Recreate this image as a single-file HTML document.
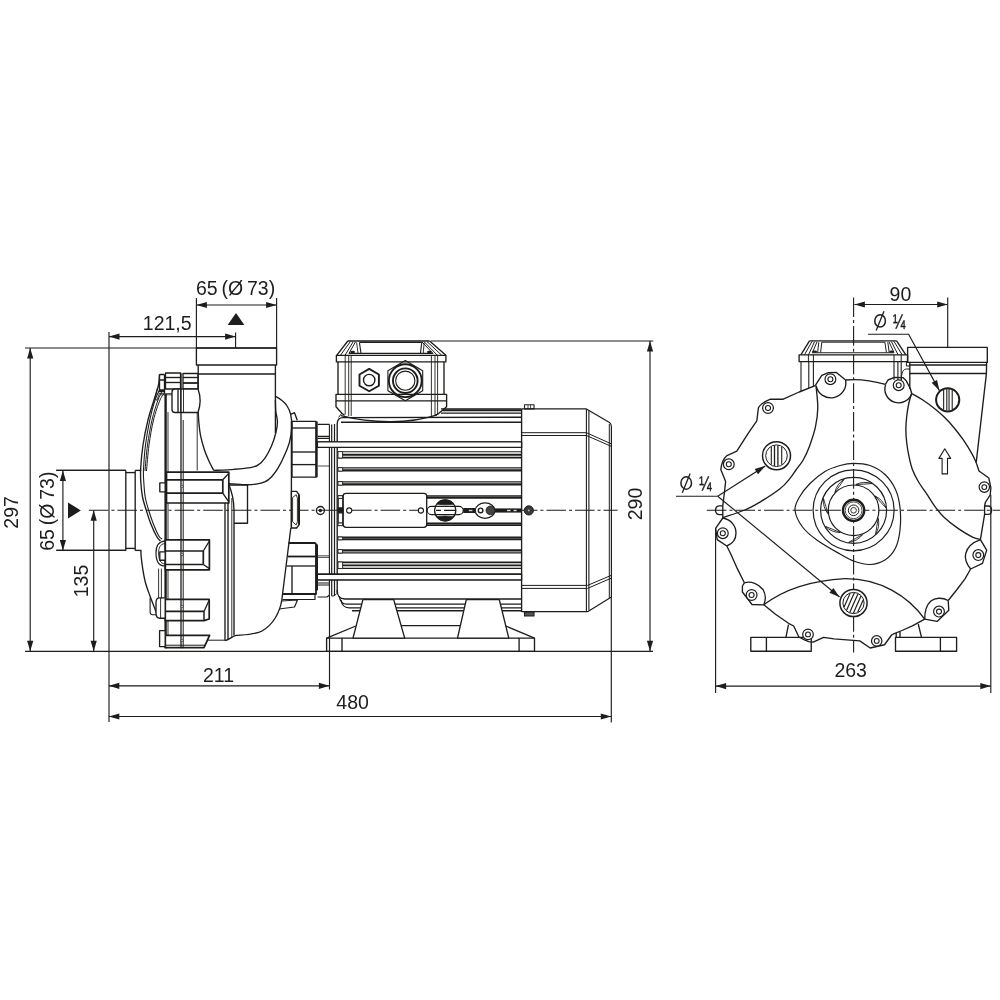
<!DOCTYPE html>
<html><head><meta charset="utf-8"><title>Pump dimension drawing</title>
<style>
html,body{margin:0;padding:0;background:#fff;}
body{width:1000px;height:1000px;overflow:hidden;}
svg{display:block;will-change:transform;font-family:"Liberation Sans",sans-serif;}
svg *{fill:none;stroke:#1d1d1b;stroke-width:1.35;stroke-linecap:butt;stroke-linejoin:round;}
svg text{fill:#1d1d1b;stroke:none;font-size:19.5px;word-spacing:-1.6px;}
svg .ar{fill:#1d1d1b;stroke:none;}
svg .d *{stroke-width:1.15;}
svg .cl{stroke-dasharray:19.6 3 3 3;stroke-width:1.1;}
svg .fk{fill:#1d1d1b;}
svg .wf{fill:#fff;}
</style></head><body>
<svg width="1000" height="1000" viewBox="0 0 1000 1000">
<rect x="0" y="0" width="1000" height="1000" style="fill:#fff;stroke:none"/>
<g class="d" >
<line x1="25" y1="348" x2="276.6" y2="348" />
<line x1="30.2" y1="348" x2="30.2" y2="651.3" />
<polygon class="ar" points="30.2,348 33.3,358.5 27.1,358.5"/>
<polygon class="ar" points="30.2,651.3 27.1,640.8 33.3,640.8"/>
<text x="18.4" y="512.4" text-anchor="middle" transform="rotate(-90 18.4 512.4)">297</text>
<line x1="25" y1="651.3" x2="653" y2="651.3" />
<line x1="109" y1="336.6" x2="235.6" y2="336.6" />
<polygon class="ar" points="109,336.6 119.5,333.5 119.5,339.7"/>
<polygon class="ar" points="235.6,336.6 225.1,339.7 225.1,333.5"/>
<line x1="109" y1="332" x2="109" y2="722" />
<line x1="235.6" y1="332.4" x2="235.6" y2="348" />
<text x="167.2" y="330.2" text-anchor="middle">121,5</text>
<line x1="196.4" y1="305" x2="276.6" y2="305" />
<polygon class="ar" points="196.4,305 206.9,301.9 206.9,308.1"/>
<polygon class="ar" points="276.6,305 266.1,308.1 266.1,301.9"/>
<line x1="196.4" y1="298" x2="196.4" y2="348" />
<line x1="276.6" y1="298" x2="276.6" y2="348" />
<text x="235.6" y="294.6" text-anchor="middle">65 (Ø 73)</text>
<polygon class="ar" points="236,313 227.6,325 244.4,325"/>
<line x1="62.9" y1="470.4" x2="62.9" y2="550.4" />
<polygon class="ar" points="62.9,470.4 66,480.9 59.8,480.9"/>
<polygon class="ar" points="62.9,550.4 59.8,539.9 66,539.9"/>
<line x1="56.3" y1="470.4" x2="126" y2="470.4" />
<line x1="56.3" y1="550.4" x2="126" y2="550.4" />
<text x="54.2" y="511.2" text-anchor="middle" transform="rotate(-90 54.2 511.2)">65 (Ø 73)</text>
<polygon class="ar" points="68,502.4 68,518.4 80.8,510.4"/>
<line x1="93.7" y1="510.3" x2="93.7" y2="651.3" />
<polygon class="ar" points="93.7,510.3 96.8,520.8 90.6,520.8"/>
<polygon class="ar" points="93.7,651.3 90.6,640.8 96.8,640.8"/>
<text x="88" y="581" text-anchor="middle" transform="rotate(-90 88 581)">135</text>
<line class="cl" x1="88.8" y1="510.3" x2="617.6" y2="510.3"/>
<line x1="108.8" y1="685.8" x2="329.4" y2="685.8" />
<polygon class="ar" points="108.8,685.8 119.3,682.7 119.3,688.9"/>
<polygon class="ar" points="329.4,685.8 318.9,688.9 318.9,682.7"/>
<text x="218.5" y="682" text-anchor="middle">211</text>
<line x1="108.8" y1="716.5" x2="611.3" y2="716.5" />
<polygon class="ar" points="108.8,716.5 119.3,713.4 119.3,719.6"/>
<polygon class="ar" points="611.3,716.5 600.8,719.6 600.8,713.4"/>
<text x="352.6" y="708.8" text-anchor="middle">480</text>
<line x1="329.5" y1="597" x2="329.5" y2="689.5" />
<line x1="611.3" y1="597" x2="611.3" y2="722.5" />
<line x1="431" y1="341" x2="653.2" y2="341" />
<line x1="650" y1="341" x2="650" y2="651.3" />
<polygon class="ar" points="650,341 653.1,351.5 646.9,351.5"/>
<polygon class="ar" points="650,651.3 646.9,640.8 653.1,640.8"/>
<text x="641.6" y="504" text-anchor="middle" transform="rotate(-90 641.6 504)">290</text>
<line class="cl" x1="853.6" y1="297.5" x2="853.6" y2="652.5"/>
<line class="cl" x1="706.8" y1="510.3" x2="1000" y2="510.3"/>
<line x1="854.4" y1="304.5" x2="947.7" y2="304.5" />
<polygon class="ar" points="854.4,304.5 864.9,301.4 864.9,307.6"/>
<polygon class="ar" points="947.7,304.5 937.2,307.6 937.2,301.4"/>
<line x1="947.7" y1="297.5" x2="947.7" y2="347.4" />
<text x="900.4" y="300.8" text-anchor="middle">90</text>
<ellipse cx="880.1" cy="320.9" rx="5.3" ry="6.2" style="stroke-width:1.5"/>
<line x1="876.2" y1="330.6" x2="884" y2="311.3" style="stroke-width:1.3"/>
<text transform="translate(893.1 327.8) scale(0.756 1)" text-anchor="start" style="stroke:#1d1d1b;stroke-width:0.45">¼</text>
<path d="M868.1,334.2 L908.6,334.2 L939.4,390.6" />
<polygon class="ar" points="939.4,390.6 931.65,382.87 937.09,379.9"/>
<ellipse cx="686.2" cy="483" rx="5.3" ry="6.2" style="stroke-width:1.5"/>
<line x1="682.3" y1="492.7" x2="690.1" y2="473.4" style="stroke-width:1.3"/>
<text transform="translate(699.2 489.9) scale(0.756 1)" text-anchor="start" style="stroke:#1d1d1b;stroke-width:0.45">¼</text>
<path d="M676,496.2 L717.7,496.2" />
<line x1="717.7" y1="496.2" x2="765.2" y2="466" />
<polygon class="ar" points="765.2,466 758,474.25 754.68,469.02"/>
<line x1="717.7" y1="496.2" x2="839.5" y2="597" />
<polygon class="ar" points="839.5,597 829.43,592.69 833.39,587.92"/>
<line x1="715.6" y1="686.1" x2="990.8" y2="686.1" />
<polygon class="ar" points="715.6,686.1 726.1,683 726.1,689.2"/>
<polygon class="ar" points="990.8,686.1 980.3,689.2 980.3,683"/>
<line x1="715.6" y1="528.4" x2="715.6" y2="693" />
<line x1="990.8" y1="494.8" x2="990.8" y2="693" />
<text x="850.7" y="676.5" text-anchor="middle">263</text>
</g>
<g class="pump" >
<rect x="196.4" y="348" width="80.2" height="17"/>
<line x1="198.2" y1="374" x2="275.4" y2="374" />
<line x1="198.2" y1="365" x2="198.2" y2="389" />
<path d="M198.25,412.1 C198.34,413.75 198.43,418.15 198.8,422 C199.17,425.85 199.53,430.62 200.45,435.2 C201.37,439.78 202.93,445.28 204.3,449.5 C205.68,453.72 207.14,457.02 208.7,460.5 C210.26,463.98 212.82,468.75 213.65,470.4" />
<path d="M213.65,470.4 C217.04,470.22 227.86,469.76 234,469.3 C240.14,468.84 246.47,468.38 250.5,467.65 C254.53,466.92 255.82,466.46 258.2,464.9 C260.58,463.34 262.6,461.42 264.8,458.3 C267,455.18 269.57,450.42 271.4,446.2 C273.23,441.98 274.79,437.03 275.8,433 C276.81,428.97 277.45,425.67 277.45,422 C277.45,418.33 276.14,414.67 275.8,411 C275.46,407.33 275.47,401.83 275.4,400" />
<line x1="275.4" y1="365" x2="275.4" y2="433" />
<path d="M275.4,396.2 C276.38,396.83 279.4,398.45 281.3,400 C283.2,401.55 285.24,403.12 286.8,405.5 C288.36,407.88 289.82,410.63 290.65,414.3 C291.47,417.97 291.93,422.92 291.75,427.5 C291.57,432.08 290.74,437.22 289.55,441.8 C288.36,446.38 286.53,450.6 284.6,455 C282.68,459.4 280.2,464.53 278,468.2 C275.8,471.87 273.6,474.71 271.4,477 C269.2,479.29 267.37,480.76 264.8,481.95 C262.23,483.14 259.3,483.69 256,484.15 C252.7,484.61 249.53,484.79 245,484.7 C240.47,484.61 231.5,483.78 228.8,483.6" />
<path d="M290.65,414.3 L294.5,412.65 L297.25,420.35" />
<path d="M126,470.4 L56.3,470.4 M126,550.4 L56.3,550.4" style="stroke-width:1.15;" />
<line x1="125.8" y1="470.4" x2="125.8" y2="550.4" />
<line x1="125.8" y1="472.6" x2="135.2" y2="472.6" />
<line x1="125.8" y1="548.4" x2="135.2" y2="548.4" />
<line x1="135.2" y1="470.4" x2="135.2" y2="550.4" />
<line x1="135.2" y1="470.4" x2="141.4" y2="470.4" />
<line x1="135.2" y1="550.4" x2="141.4" y2="550.4" />
<path d="M159.5,374.5 C159.33,376.25 159.42,380.75 158.5,385 C157.58,389.25 155.75,394.17 154,400 C152.25,405.83 149.83,412.5 148,420 C146.17,427.5 144.22,437 143,445 C141.78,453 141.07,461.83 140.7,468 C140.33,474.17 140.5,477.17 140.8,482 C141.1,486.83 141.6,492.33 142.5,497 C143.4,501.67 144.87,505.67 146.2,510 C147.53,514.33 148.8,518.67 150.5,523 C152.2,527.33 154.75,533 156.4,536 C158.05,539 159.73,540.17 160.4,541" />
<path d="M159.5,390 C158.75,391.67 156.58,395.17 155,400 C153.42,404.83 151.58,411.5 150,419 C148.42,426.5 146.58,436.5 145.5,445 C144.42,453.5 143.78,463.83 143.5,470 C143.22,476.17 143.52,477.5 143.8,482 C144.08,486.5 144.4,492.33 145.2,497 C146,501.67 147.3,505.67 148.6,510 C149.9,514.33 151.3,518.67 153,523 C154.7,527.33 157.27,533.33 158.8,536 C160.33,538.67 161.63,538.5 162.2,539" style="stroke-width:1.1;" />
<path d="M162,391.5 C161.33,392.92 159.67,395.25 158,400 C156.33,404.75 153.75,412.5 152,420 C150.25,427.5 148.67,436.5 147.5,445 C146.33,453.5 145.42,466.67 145,471" style="stroke-width:1;" />
<path d="M164.5,393 C163.75,394.17 161.83,395.5 160,400 C158.17,404.5 155.33,412.5 153.5,420 C151.67,427.5 150.17,436.5 149,445 C147.83,453.5 146.92,466.67 146.5,471" style="stroke-width:1;" />
<path d="M140.9,550.4 C140.95,551.5 140.87,553.77 141.2,557 C141.53,560.23 142.2,565.55 142.9,569.8 C143.6,574.05 144.27,578.25 145.4,582.5 C146.53,586.75 148.28,591.33 149.7,595.3 C151.12,599.27 152.77,603.33 153.9,606.3 C155.03,609.27 156.07,611.97 156.5,613.1" />
<path d="M150.1,597.8 L150.1,612.3 C150.2,614 151,614.8 152.6,614.8 L157,614.8" style="stroke-width:1.1;" />
<path d="M157.5,388 L155,398 L156.8,400.5 L159.6,393" style="stroke-width:0.9;" />
<path d="M160,393.6 L172,393.6 M160,394.8 L172,394.8" style="stroke-width:0.8;" />
<path d="M159.5,374.5 L164.5,374.5 M159.5,380 L164.5,380 M159.5,390 L164.5,390 M159.5,374.5 L159.5,391.5 L164.5,391.5 M164.5,374.5 L164.5,393" />
<line x1="165.6" y1="394" x2="165.6" y2="648.2" style="stroke-width:2.4" />
<line x1="168" y1="412" x2="168" y2="648.2" style="stroke-width:0.9" />
<rect x="165.5" y="373" width="15" height="16" style="stroke-width:1.3;"/>
<rect x="183" y="373.5" width="15" height="15.5" style="stroke-width:1.3;"/>
<line x1="165.5" y1="377.5" x2="180.5" y2="377.5" />
<line x1="165.5" y1="382.5" x2="180.5" y2="382.5" />
<line x1="183" y1="377.5" x2="198" y2="377.5" />
<line x1="183" y1="383" x2="198" y2="383" style="stroke-width:1.8" />
<path class="wf" d="M175,389 L198,389 C200.6,396 200.6,405 198,412.5 L175,412.5 C173,412.5 172,411.5 172,409.5 L172,392 C172,390 173,389 175,389 Z"/>
<line x1="178" y1="389.2" x2="178" y2="412.3" />
<line x1="180.6" y1="389.2" x2="180.6" y2="412.3" style="stroke-width:0.9" />
<line x1="183.5" y1="389.2" x2="183.5" y2="412.3" style="stroke-width:0.9" />
<line x1="197.2" y1="412.5" x2="197.2" y2="470.5" style="stroke-width:0.9" />
<path class="wf" style="stroke-width:1.7" d="M166.5,472.2 L228.8,472.2 L228.8,503 L166.5,503 Z"/>
<line x1="166.5" y1="479.8" x2="222.8" y2="479.8" style="stroke-width:1.7" />
<line x1="166.5" y1="493.2" x2="222.8" y2="493.2" style="stroke-width:1.7" />
<line x1="222.8" y1="479.8" x2="222.8" y2="493.2" style="stroke-width:1.7" />
<line x1="222.8" y1="479.8" x2="228.8" y2="473.4" />
<line x1="222.8" y1="493.2" x2="228.8" y2="501.8" />
<rect class="wf" x="159.8" y="482.8" width="5.4" height="9"/>
<path class="wf" style="stroke-width:1.7" d="M165.3,539.8 L209.4,539.8 L209.4,569.8 L165.3,569.8 Z"/>
<line x1="165.3" y1="551" x2="203.3" y2="551" style="stroke-width:1.7" />
<line x1="165.3" y1="564.5" x2="203.3" y2="564.5" style="stroke-width:1.7" />
<line x1="203.3" y1="551" x2="203.3" y2="564.5" style="stroke-width:1.7" />
<line x1="203.3" y1="551" x2="209.4" y2="541" />
<line x1="203.3" y1="564.5" x2="209.4" y2="568.6" />
<path d="M165,541.2 C158,541.5 156,546 156,553 C156,560 158,566 165,566" style="stroke-width:1.2;" />
<path d="M165,543.5 C160,544 158.6,548 158.6,553 C158.6,559 160,563.6 165,564" style="stroke-width:0.9;" />
<rect class="wf" x="159.8" y="551.8" width="5.4" height="8.4"/>
<path class="wf" style="stroke-width:1.7" d="M165.3,599.4 L209.2,599.4 L209.2,619 L204,620.6 L165.3,620.6 Z"/>
<line x1="165.3" y1="611.4" x2="204" y2="611.4" style="stroke-width:1.7" />
<line x1="204" y1="611.4" x2="204" y2="620.4" style="stroke-width:1.5" />
<line x1="204" y1="611.4" x2="209" y2="600.4" style="stroke-width:1.3" />
<path class="wf" d="M165.2,597.8 L159,597.8 C156.6,598 156,600 156,603 L156,613 C156,616.6 157.6,618.2 160,618.2 L165.2,618.2 Z"/>
<line x1="160.6" y1="598" x2="160.6" y2="618" style="stroke-width:0.9" />
<path class="wf" style="stroke-width:1.7" d="M165.3,635.4 L209.6,635.4 L204,647.6 L165.3,647.6 Z"/>
<line x1="165.3" y1="645.2" x2="205" y2="645.2" style="stroke-width:1" />
<line x1="208.6" y1="637.6" x2="204.6" y2="646.4" style="stroke-width:0.9" />
<rect class="wf" x="159.6" y="630.6" width="5.6" height="16"/>
<line x1="208" y1="640.2" x2="225" y2="640.2" style="stroke-width:1" />
<line x1="181" y1="373" x2="181" y2="648.2" style="stroke-width:1.3" />
<line x1="183.2" y1="420" x2="183.2" y2="648.2" style="stroke-width:1" />
<circle cx="182.1" cy="486.4" r="1.1" style="stroke-width:0.7;fill:#fff;"/>
<circle cx="182.1" cy="554.6" r="1.1" style="stroke-width:0.7;fill:#fff;"/>
<circle cx="182.1" cy="606.4" r="1.1" style="stroke-width:0.7;fill:#fff;"/>
<circle cx="182.1" cy="640.6" r="1.1" style="stroke-width:0.7;fill:#fff;"/>
<line x1="158.6" y1="568.6" x2="158.6" y2="598.4" style="stroke-width:0.9" />
<line x1="161.4" y1="568.6" x2="161.4" y2="598.4" style="stroke-width:0.9" />
<line x1="225" y1="503" x2="225" y2="640.6" />
<line x1="228" y1="503" x2="228" y2="639.4" />
<path d="M228.6,484 C232,492 234,500 234,510.6 L234,635.4" />
<line x1="231.8" y1="498" x2="231.8" y2="637" style="stroke-width:0.9" />
<path d="M228.8,485 L247.5,485 L247.5,523.2 L234,523.2" />
<path d="M225,640.6 C229,640 232,636.5 236,635.4 C246,634.6 256,634.4 262,631 C273,625 280,612 281.8,600 L290.8,528" />
<line x1="291.4" y1="421.4" x2="291.4" y2="528" />
<path class="wf" d="M291.4,491.4 L296.6,491.4 L299.2,495 L299.2,524.6 L296.6,528 L291.4,528 Z"/>
<path d="M292.6,497.6 L296.2,494.6 L297.4,498.2 L297.4,521.6 L296.2,525 L292.6,521.8 Z" style="stroke-width:0.9;" />
<line x1="299" y1="495" x2="299" y2="524.6" style="stroke-width:2" />
<rect x="292" y="421.4" width="24" height="55.8"/>
<line x1="292" y1="428" x2="316" y2="428" />
<line x1="292" y1="452" x2="316" y2="452" />
<line x1="292" y1="464.6" x2="316" y2="464.6" />
<line x1="316.6" y1="421.4" x2="316.6" y2="477.2" style="stroke-width:2.2" />
<path d="M288.5,543 L314.6,543 C315.6,543 316,543.6 316,544.6 L316,594 L283,594" style="stroke-width:1.8;" />
<line x1="288" y1="556.5" x2="316" y2="556.5" style="stroke-width:1.8" />
<line x1="286.5" y1="566" x2="316" y2="566" style="stroke-width:1.3" />
<line x1="292" y1="566" x2="292" y2="594" />
<line x1="316.8" y1="544.4" x2="316.8" y2="590.4" style="stroke-width:2.4" />
<path d="M282.4,599.5 L315,599.5 L315,594" style="stroke-width:1.2;" />
<path d="M281.5,601 L297.5,600 L294.5,607 L279,609" style="stroke-width:1.2;" />
<path d="M317.6,424.4 L329.6,424.4 M317.6,436.4 L329.6,436.4 M317.6,438.4 L329.6,438.4" style="stroke-width:1.1;" />
<path d="M317.6,583 L329.6,583 M317.6,585 L329.6,585 M317.6,597 L327,597 L329.6,595" style="stroke-width:1.1;" />
<path d="M317.6,555.8 L329.6,555.8 M317.6,557.4 L329.6,557.4" style="stroke-width:0.8;" />
<path d="M317.6,466 L329.6,466" style="stroke-width:0.8;" />
<line x1="317.4" y1="441.8" x2="521.5" y2="441.8" />
<line x1="317.4" y1="447.4" x2="521.5" y2="447.4" />
<line x1="317.4" y1="574.2" x2="521.5" y2="574.2" />
<line x1="317.4" y1="579.8" x2="521.5" y2="579.8" />
<circle cx="320.4" cy="510.5" r="4"/>
<circle cx="320.4" cy="510.5" r="1" style="fill:#1d1d1b;"/>
<line x1="329.4" y1="424.4" x2="329.4" y2="597" style="stroke-width:1.1" />
<line x1="331.7" y1="424.4" x2="331.7" y2="596" style="stroke-width:1.2" />
<line x1="334.5" y1="424" x2="334.5" y2="596" style="stroke-width:1.2" />
<path d="M331.7,596 C333,596.4 335.4,595.6 336.6,593.4" style="stroke-width:1;" />
</g>
<g class="motor" >
<path d="M337.2,424 C337.2,420 339,417.6 343,417.6 L521.6,417.2" />
<line x1="341" y1="422.2" x2="521.6" y2="422.2" style="stroke-width:1.5" />
<line x1="337.2" y1="424" x2="337.2" y2="593" />
<path d="M441,408.9 L521.6,408.9" style="stroke-width:1.2;" />
<line x1="442.6" y1="410.3" x2="521.6" y2="410.3" style="stroke-width:2" />
<line x1="441" y1="413.1" x2="521.6" y2="413.1" style="stroke-width:1.1" />
<path d="M337.2,590 C337.2,596 339,599 345,599 L521.6,599" />
<path d="M339.2,596 C340,601.6 342,604.2 347,604.2 L521.6,604.2" style="stroke-width:1.3;" />
<path d="M341,600 C342,605.6 344,607.8 349,607.8 L521.6,607.8" style="stroke-width:1.3;" />
<line x1="352" y1="610.8" x2="521.6" y2="610.8" style="stroke-width:1.5" />
<line x1="521.6" y1="408.9" x2="521.6" y2="612" />
<line x1="338" y1="451.8" x2="521.6" y2="451.8" style="stroke-width:1.1" />
<line x1="338" y1="454.8" x2="521.6" y2="454.8" style="stroke-width:1.9" />
<line x1="338" y1="457.6" x2="521.6" y2="457.6" style="stroke-width:1.9" />
<rect class="wf" x="338" y="451.6" width="4.6" height="6.4" style="stroke-width:0.9"/>
<line x1="338" y1="467.9" x2="521.6" y2="467.9" style="stroke-width:1.2" />
<line x1="338" y1="470.4" x2="521.6" y2="470.4" style="stroke-width:2.2" />
<rect class="wf" x="338" y="467.7" width="4.6" height="3.4" style="stroke-width:0.9"/>
<line x1="338" y1="481.9" x2="521.6" y2="481.9" style="stroke-width:1.2" />
<line x1="338" y1="484.4" x2="521.6" y2="484.4" style="stroke-width:2.2" />
<rect class="wf" x="338" y="481.7" width="4.6" height="3.4" style="stroke-width:0.9"/>
<line x1="338" y1="495.9" x2="521.6" y2="495.9" style="stroke-width:1.2" />
<line x1="338" y1="497.7" x2="521.6" y2="497.7" style="stroke-width:2.2" />
<rect class="wf" x="338" y="495.7" width="4.6" height="2.7" style="stroke-width:0.9"/>
<line x1="338" y1="523.7" x2="521.6" y2="523.7" style="stroke-width:2.2" />
<line x1="338" y1="525.5" x2="521.6" y2="525.5" style="stroke-width:1.2" />
<rect class="wf" x="338" y="523" width="4.6" height="2.7" style="stroke-width:0.9"/>
<line x1="338" y1="537.7" x2="521.6" y2="537.7" style="stroke-width:2.2" />
<line x1="338" y1="539.6" x2="521.6" y2="539.6" style="stroke-width:1.2" />
<rect class="wf" x="338" y="537" width="4.6" height="2.8" style="stroke-width:0.9"/>
<line x1="338" y1="550.3" x2="521.6" y2="550.3" style="stroke-width:2.2" />
<line x1="338" y1="552.8" x2="521.6" y2="552.8" style="stroke-width:1.2" />
<rect class="wf" x="338" y="549.6" width="4.6" height="3.4" style="stroke-width:0.9"/>
<line x1="338" y1="562.4" x2="521.6" y2="562.4" style="stroke-width:1.9" />
<line x1="338" y1="565.4" x2="521.6" y2="565.4" style="stroke-width:1.9" />
<line x1="338" y1="568.4" x2="521.6" y2="568.4" style="stroke-width:1.1" />
<rect class="wf" x="338" y="562" width="4.6" height="6.6" style="stroke-width:0.9"/>
<rect class="wf" x="317.4" y="441.8" width="204.2" height="5.6"/>
<rect class="wf" x="317.4" y="574.2" width="204.2" height="5.6"/>
<rect class="wf" x="343.2" y="493.3" width="83.5" height="34.1" rx="2.8" style="stroke-width:1.3"/>
<line x1="338.4" y1="498.8" x2="338.4" y2="522.6" style="stroke-width:0.9" />
<line x1="342.6" y1="498.8" x2="342.6" y2="522.6" style="stroke-width:0.9" />
<rect class="fk" x="338.2" y="508" width="4.6" height="4.8"/>
<circle cx="349.2" cy="510.5" r="2.6" style="stroke-width:1.1;"/>
<circle cx="420.9" cy="510.5" r="2.6" style="stroke-width:1.1;"/>
<line class="cl" x1="352" y1="510.3" x2="419" y2="510.3"/>
<rect class="wf" x="427.2" y="506.4" width="36" height="8.2" rx="4.1" style="stroke-width:1.1"/>
<circle cx="445.2" cy="510.4" r="10.6" style="stroke-width:1.3;"/>
<path d="M436.6,504.2 A10.6,10.6 0 0 1 453.8,504.2 Q445.2,505.4 436.6,504.2 Z" style="stroke-width:0.6;fill:#1d1d1b;" />
<path d="M436.6,516.6 A10.6,10.6 0 0 0 453.8,516.6 Q445.2,515.4 436.6,516.6 Z" style="stroke-width:0.6;fill:#1d1d1b;" />
<line class="cl" x1="436" y1="510.4" x2="456" y2="510.4" style="stroke-dasharray:5 3 14 3"/>
<line x1="463.2" y1="510.5" x2="475.4" y2="510.5" style="stroke-width:5" />
<line x1="468.8" y1="510.5" x2="472.2" y2="510.5" style="stroke-width:1.2" />
<line x1="468.8" y1="510.5" x2="472.4" y2="510.5" style="stroke:#ccc;stroke-width:1.4"/>
<ellipse cx="485.1" cy="510.6" rx="9.9" ry="7.7" style="stroke-width:1.2;fill:#fff;"/>
<circle cx="480.6" cy="510.4" r="2.3" style="stroke-width:1.4;"/>
<circle cx="490.4" cy="510.4" r="4.4" style="stroke-width:0.8;fill:#444;"/>
<line x1="495" y1="510.5" x2="521.4" y2="510.5" style="stroke-width:4.2" />
<line x1="507" y1="510.5" x2="510.6" y2="510.5" style="stroke:#ddd;stroke-width:1.4"/>
<line x1="513.6" y1="510.5" x2="516.6" y2="510.5" style="stroke:#ddd;stroke-width:1.4"/>
<circle cx="528.8" cy="510.4" r="4.6" style="stroke-width:1;fill:#3a3a3a;"/>
<circle cx="528.8" cy="510.4" r="1.1" style="stroke-width:0.4;fill:#ccc;"/>
<path d="M521.7,408.9 L586.4,408.9 L609.5,422.6 C611,423.6 611.4,425 611.4,427 L611.4,597 L587.6,611.7 L521.7,611.7" style="stroke-width:1.2;" />
<line x1="586.4" y1="408.9" x2="586.4" y2="611.7" style="stroke-width:1.1" />
<line x1="588.9" y1="410.4" x2="588.9" y2="610.6" style="stroke-width:1.1" />
<line x1="609.3" y1="424" x2="609.3" y2="598" style="stroke-width:1" />
<path d="M521.7,432.7 L586.4,432.7 L611.4,443.9 M521.7,435.5 L586.4,435.5 L611.4,446.4" style="stroke-width:1;" />
<path d="M521.7,585.4 L587.5,585.4 L611.4,575.3 M521.7,588.4 L587.5,588.4 L611.4,578.1" style="stroke-width:1;" />
<rect x="524.5" y="404.7" width="9.5" height="4.2" style="stroke-width:1.1;"/>
<line x1="528" y1="405" x2="528" y2="408.6" style="stroke-width:0.8" />
<line x1="530.6" y1="405" x2="530.6" y2="408.6" style="stroke-width:0.8" />
<rect x="524.5" y="612" width="9.5" height="4" style="stroke-width:1.1;fill:#555;"/>
<rect x="326.6" y="638.1" width="207.9" height="13.2"/>
<line x1="342" y1="638.1" x2="342" y2="651.3" />
<line x1="519.1" y1="638.1" x2="519.1" y2="651.3" />
<path class="wf" d="M362.9,599.6 L393.7,599.6 L404.7,638.1 L353,638.1 Z"/>
<path class="wf" d="M466.3,599.6 L499.3,599.6 L508.8,638.1 L457.5,638.1 Z"/>
<line x1="401.2" y1="625.6" x2="460.4" y2="625.6" />
<line x1="326.6" y1="638.1" x2="355.8" y2="626" />
<line x1="534.5" y1="638.1" x2="505.8" y2="626" />
<path d="M347.8,341 L429.6,341" />
<path d="M347.8,341 L336.7,355.3 M429.6,341 L445.9,355.3" />
<path d="M350.4,341.6 L340.4,355.3 M353,342 L345,355.3 M355.4,342 L349,353.4" style="stroke-width:1;" />
<path d="M427,341.6 L441.8,355.3 M424.4,342 L437.4,355.3 M422,342 L433,353.4" style="stroke-width:1;" />
<path d="M359.4,342.4 L421.8,342.4 M359.4,342.4 L361,353.4 M421.8,342.4 L420.4,353.4" style="stroke-width:1.1;" />
<path d="M356.6,342.4 L358,353.4 M424.2,342.4 L423.2,353.4" style="stroke-width:0.9;" />
<line x1="349" y1="353.4" x2="433" y2="353.4" style="stroke-width:1.1" />
<ellipse class="fk" cx="352.6" cy="352" rx="2.4" ry="1.2" style="stroke:none"/>
<ellipse class="fk" cx="429.4" cy="352" rx="2.4" ry="1.2" style="stroke:none"/>
<rect x="336.4" y="355.3" width="109.5" height="6.6"/>
<line x1="338" y1="361.9" x2="338" y2="394.4" />
<line x1="444" y1="361.9" x2="444" y2="394.4" />
<line x1="345.2" y1="355.3" x2="345.2" y2="414.6" style="stroke-width:0.9" />
<line x1="348.7" y1="355.3" x2="348.7" y2="416" style="stroke-width:0.9" />
<line x1="351.2" y1="355.3" x2="351.2" y2="416" style="stroke-width:0.9" />
<line x1="431.4" y1="355.3" x2="431.4" y2="416" style="stroke-width:0.9" />
<line x1="435" y1="355.3" x2="435" y2="416" style="stroke-width:0.9" />
<line x1="437.6" y1="355.3" x2="437.6" y2="414.6" style="stroke-width:0.9" />
<rect x="336" y="394.4" width="110.6" height="6.5"/>
<path d="M336,400.9 L336,406.7 L341.9,413.2 L344.5,415.2 M446.6,400.9 L446.6,406.7 L438.6,413.6 L435.5,415.2" />
<path d="M341,415.6 C360,420.6 380,421.6 390,421.6 C402,421.6 422,420 437,414.8" />
<path d="M341.9,413.2 L338.6,417.4" style="stroke-width:1;" />
<path d="M369.2,391.3 L359.5,385.7 L359.5,374.5 L369.2,368.9 L378.9,374.5 L378.9,385.7 Z" style="stroke-width:1.9;" />
<circle cx="369.2" cy="380.1" r="5.7" style="stroke-width:1.4;"/>
<path d="M405.3,400.8 L387.89,390.75 L387.89,370.65 L405.3,360.6 L422.71,370.65 L422.71,390.75 Z" style="stroke-width:1.1;" />
<circle cx="405.3" cy="380.7" r="16.4" style="stroke-width:1.9;"/>
<circle cx="405.3" cy="380.7" r="12.3" style="stroke-width:1.9;"/>
<circle cx="405.3" cy="380.7" r="9.6" style="stroke-width:1.1;"/>
</g>
<g class="rv" >
<path d="M809.5,340.8 L896.6,340.8" />
<path d="M809.5,340.8 L801,354.6 M896.6,340.8 L905.7,354.6" />
<path d="M812,341.4 L804.6,354.6 M814.6,341.6 L808.6,354.6 M817,341.8 L812.4,352.6" style="stroke-width:1;" />
<path d="M894,341.4 L902,354.6 M891.4,341.6 L898,354.6 M889,341.8 L894,352.6" style="stroke-width:1;" />
<path d="M821.8,342.2 L884.9,342.2 M821.8,342.2 L820.6,352.6 M884.9,342.2 L886.4,352.6 M818.8,342.2 L817.6,352.6 M887.8,342.2 L889.2,352.6" style="stroke-width:1;" />
<line x1="812" y1="352.8" x2="894" y2="352.8" style="stroke-width:1.1" />
<ellipse class="fk" cx="814.6" cy="351.6" rx="2.4" ry="1.2" style="stroke:none"/>
<ellipse class="fk" cx="891.6" cy="351.6" rx="2.4" ry="1.2" style="stroke:none"/>
<rect x="799.1" y="354.8" width="108.5" height="6.8"/>
<line x1="808.4" y1="354.8" x2="808.4" y2="361.6" style="stroke-width:1" />
<line x1="813.4" y1="354.8" x2="813.4" y2="361.6" style="stroke-width:1" />
<line x1="894" y1="354.8" x2="894" y2="361.6" style="stroke-width:1" />
<line x1="901.2" y1="354.8" x2="901.2" y2="361.6" style="stroke-width:1" />
<line x1="801" y1="361.6" x2="801" y2="391.2" style="stroke-width:1.1" />
<line x1="808.8" y1="361.6" x2="808.8" y2="388" style="stroke-width:1.1" />
<line x1="813.4" y1="361.6" x2="813.4" y2="386.2" style="stroke-width:1.1" />
<line x1="894" y1="361.6" x2="894" y2="380" style="stroke-width:1.1" />
<line x1="897.9" y1="361.6" x2="897.9" y2="380" style="stroke-width:1.1" />
<line x1="901.2" y1="361.6" x2="901.2" y2="380" style="stroke-width:1.1" />
<path d="M906.4,361.6 L906.4,366 L909.8,366 M901.2,380 C901.6,372 903,369.4 906.4,369 L909.8,369" style="stroke-width:1;" />
<rect x="907.6" y="347.4" width="79.7" height="15"/>
<line x1="909.8" y1="365" x2="986.6" y2="365" />
<line x1="909.8" y1="373.5" x2="986.2" y2="373.5" />
<line x1="909.8" y1="362.4" x2="909.8" y2="389" />
<path d="M986.6,362.4 L986.4,373.6 L976.2,462.6" />
<rect x="750.8" y="637.3" width="60.45" height="13.95"/>
<line x1="766.4" y1="637.3" x2="766.4" y2="651.25" />
<rect x="895.5" y="637.3" width="61.1" height="13.95"/>
<line x1="940.4" y1="637.3" x2="940.4" y2="651.25" />
<path d="M788.5,624.6 L785.9,637.3" />
<path d="M918.25,624 L921.5,637.3 M896.2,633 L896.2,637.3 M900,631.4 L900,637.3" />
<path d="M845.6,380 C857,378.8 872,380.6 885.4,384.4" />
<path d="M815.2,385.6 L821.8,375.4 L828.4,372.6 L836.4,372.4 L845.6,380" style="fill:none;" />
<path d="M816.2,385.8 A13.4,13.4 0 0 0 845.6,380" />
<circle cx="830.4" cy="379.2" r="5.4" style="stroke-width:1.2;fill:#fff;"/>
<circle cx="830.4" cy="379.2" r="2.5" style="stroke-width:1.1;"/>
<path d="M885.4,384.4 L888,380 L894.4,377.4 L903,377.6 L906,380.4 L910.4,388.8 L911.7,393.5" />
<path d="M885.6,384.6 A13.4,13.4 0 0 0 911.7,393.5" />
<circle cx="898.7" cy="385.2" r="5.4" style="stroke-width:1.2;fill:#fff;"/>
<circle cx="898.7" cy="385.2" r="2.5" style="stroke-width:1.1;"/>
<path d="M815.2,385.6 L799.2,392 L783.2,399.2 L770.4,399.2 C764,402 759.4,404.6 758.4,408 L756.8,420.8 L748,433.6 L736.8,451.2 L727,455.6 C723,459 721.4,464 720.8,469.6 L725.6,481.6 L724.6,491 L722.8,505.6" />
<circle cx="768" cy="408" r="5.4" style="stroke-width:1.2;fill:#fff;"/>
<circle cx="768" cy="408" r="2.5" style="stroke-width:1.1;"/>
<circle cx="728.8" cy="464.3" r="5.4" style="stroke-width:1.2;fill:#fff;"/>
<circle cx="728.8" cy="464.3" r="2.5" style="stroke-width:1.1;"/>
<path d="M722.8,505.8 L719.6,505.8 C714.2,505.8 714.2,514.6 719.6,514.6 L722.8,514.6" />
<path d="M722.8,505.6 L722.8,518" />
<path d="M722.8,518 L715.6,528.4 L717.2,539.6 L726.8,546" />
<path d="M722.8,518 C731,519.4 736,526 736,533 C736,539.6 732,544 726.8,546" />
<circle cx="722.8" cy="533.2" r="5.4" style="stroke-width:1.2;fill:#fff;"/>
<circle cx="722.8" cy="533.2" r="2.5" style="stroke-width:1.1;"/>
<path d="M726.8,546 L730.8,554 L737.2,568.4 L744.4,582.8" />
<path d="M744.4,582.8 L742.4,586 L742.4,592 L752,604.5 L763.8,604.8" />
<path d="M744.4,582.8 C751,580.6 759,584 763,589.5 C766,594.6 765.6,600.6 763.8,604.8" />
<circle cx="751.6" cy="595" r="5.4" style="stroke-width:1.2;fill:#fff;"/>
<circle cx="751.6" cy="595" r="2.5" style="stroke-width:1.1;"/>
<path d="M763.8,604.8 L775.5,614.2 L788.5,623.3 L793.7,626 L798.9,637 L804,639.6 L808.6,641.6 L813.2,642.2 L823.6,637.3 L834,638.9 L859.75,640.9 L870.2,648 L884.5,644.75 L891.6,635 L894.2,633.7 L902,630.5 L912.4,625.9 L924.75,619.1" />
<circle cx="808" cy="634.4" r="5.3" style="stroke-width:1.2;fill:#fff;"/>
<circle cx="808" cy="634.4" r="2.4" style="stroke-width:1.1;"/>
<circle cx="876.7" cy="640.9" r="5.2" style="stroke-width:1.2;fill:#fff;"/>
<circle cx="876.7" cy="640.9" r="2.4" style="stroke-width:1.1;"/>
<path d="M924.75,619.1 L937.1,621.4 L948.8,610.3 L948.2,600.5" />
<path d="M924.75,619.1 C924.6,612 926.6,605 930.6,601.2 C935,597.6 942,597.2 948.2,600.5" />
<circle cx="939" cy="611.6" r="5.4" style="stroke-width:1.2;fill:#fff;"/>
<circle cx="939" cy="611.6" r="2.5" style="stroke-width:1.1;"/>
<path d="M948.2,600.5 L956.6,590 L965,578.8 L970.6,569" />
<path d="M970.6,569 L982.5,563.4 L986.7,550.1 L980.4,539.6" />
<path d="M970.6,569 C966.6,564 964.6,558 965.7,553.6 C967,547.6 972,542.6 980.4,539.6" />
<circle cx="978.3" cy="555.1" r="5.4" style="stroke-width:1.2;fill:#fff;"/>
<circle cx="978.3" cy="555.1" r="2.5" style="stroke-width:1.1;"/>
<path d="M980.4,539.6 L984.6,514.4" />
<path d="M984.6,506 L988,506 C992.8,506 992.8,514.4 988,514.4 L984.6,514.4 Z" />
<path d="M984.6,506 L985.3,502.5 L990.2,494.8 L990.9,487.8 L988.8,478 L979,471 L976.2,462.6" />
<circle cx="984.3" cy="487.1" r="5.2" style="stroke-width:1.2;fill:#fff;"/>
<circle cx="984.3" cy="487.1" r="2.4" style="stroke-width:1.1;"/>
<path d="M911.7,393.5 C913.5,394.55 918.45,397.1 922.5,399.8 C926.55,402.5 932.25,406.7 936,409.7 C939.75,412.7 942,414.8 945,417.8 C948,420.8 951,424.1 954,427.7 C957,431.3 960,435.05 963,439.4 C966,443.75 969.8,449.93 972,453.8 C974.2,457.67 975.5,461.13 976.2,462.6" />
<path d="M911.7,393.5 C911.25,395 909.83,398.75 909,402.5 C908.17,406.25 907.27,411.5 906.75,416 C906.23,420.5 905.85,425 905.85,429.5 C905.85,434 906.23,438.5 906.75,443 C907.27,447.5 908.02,452 909,456.5 C909.98,461 911,465.75 912.6,470 C914.2,474.25 916.3,478.1 918.6,482 C920.9,485.9 923.67,489.3 926.4,493.4 C929.13,497.5 932.07,502.63 935,506.6 C937.93,510.57 940.17,513.57 944,517.2 C947.83,520.83 953.33,525.13 958,528.4 C962.67,531.67 968.27,534.93 972,536.8 C975.73,538.67 979,539.13 980.4,539.6" />
<path d="M816,385.6 C816.3,389.33 817.9,401.07 817.8,408 C817.7,414.93 816.8,420.8 815.4,427.2 C814,433.6 811.43,440.93 809.4,446.4 C807.37,451.87 805.43,456.07 803.2,460 C800.97,463.93 798.2,466.93 796,470 C793.8,473.07 792.67,475.27 790,478.4 C787.33,481.53 784.87,484.93 780,488.8 C775.13,492.67 766.67,498.07 760.8,501.6 C754.93,505.13 751.13,507.33 744.8,510 C738.47,512.67 726.47,516.33 722.8,517.6" />
<path d="M763.8,604.8 C782,591 808,580.6 845,578.6 C880,578.4 908,596 924.75,619.1" />
<path d="M795,510.2 C794.5,505.2 797,501.45 799.5,497 C802,492.55 805.75,487.75 810,483.5 C814.25,479.25 820,474.5 825,471.5 C830,468.5 835.25,466.87 840,465.5 C844.75,464.13 848.5,463.3 853.5,463.3 C858.5,463.3 864.75,463.63 870,465.5 C875.25,467.37 880.75,470.5 885,474.5 C889.25,478.5 893,484 895.5,489.5 C898,495 899.25,500.75 900,507.5 C900.75,514.25 900.75,523.25 900,530 C899.25,536.75 898,543 895.5,548 C893,553 889.25,557.25 885,560 C880.75,562.75 875,564.25 870,564.5 C865,564.75 860,563.25 855,561.5 C850,559.75 846.25,557.5 840,554 C833.75,550.5 823.75,545 817.5,540.5 C811.25,536 806.25,532.05 802.5,527 C798.75,521.95 795.5,515.2 795,510.2 Z" style="stroke-width:1.2;" />
<circle cx="853.6" cy="510.3" r="40.5" style="stroke-width:1.2;"/>
<circle cx="853.6" cy="510.3" r="33" style="stroke-width:1.2;"/>
<circle cx="853.6" cy="510.3" r="25.3" style="stroke-width:1.2;"/>
<path d="M878.25,518.26 Q880.08,526.77 875.6,534.22 Q876.73,526.21 878.25,518.26 Z" style="stroke-width:0.9;" />
<path d="M862.74,534.53 Q857.24,541.27 848.61,542.41 Q855.58,538.3 862.74,534.53 Z" style="stroke-width:0.9;" />
<path d="M840.35,532.56 Q831.66,532.45 825.38,526.42 Q832.94,529.31 840.35,532.56 Z" style="stroke-width:0.9;" />
<path d="M827.94,513.82 Q822.6,506.95 823.4,498.29 Q825.86,506 827.94,513.82 Z" style="stroke-width:0.9;" />
<path d="M834.85,492.43 Q836.89,483.98 844.16,479.2 Q839.67,485.93 834.85,492.43 Z" style="stroke-width:0.9;" />
<path d="M855.88,484.5 Q863.76,480.82 872.03,483.53 Q863.96,484.21 855.88,484.5 Z" style="stroke-width:0.9;" />
<path d="M875.19,495.99 Q882.98,499.86 886.02,508.02 Q880.46,502.14 875.19,495.99 Z" style="stroke-width:0.9;" />
<circle cx="853.6" cy="510.3" r="10.6" style="stroke-width:2.4;fill:#fff;"/>
<circle cx="853.6" cy="510.3" r="8.4" style="stroke-width:0.8;"/>
<circle cx="853.6" cy="510.3" r="5.3" style="stroke-width:1;"/>
<circle cx="853.6" cy="510.3" r="2.8" style="stroke-width:0.9;"/>
<circle cx="776.5" cy="455.7" r="14" style="stroke-width:1.5;fill:#fff;"/>
<circle cx="776.5" cy="455.7" r="10.8" style="stroke-width:1;"/>
<line x1="771.3" y1="446.83" x2="771.3" y2="464.57" style="stroke-width:1.1" />
<line x1="774.5" y1="445.69" x2="774.5" y2="465.71" style="stroke-width:1.3" />
<line x1="777.9" y1="445.59" x2="777.9" y2="465.81" style="stroke-width:1.3" />
<line x1="781.7" y1="446.83" x2="781.7" y2="464.57" style="stroke-width:1.1" />
<circle cx="947.7" cy="399.8" r="11.6" style="stroke-width:2;fill:#fff;"/>
<line x1="943.65" y1="389.73" x2="943.65" y2="409.87" style="stroke-width:1.1" />
<line x1="946.8" y1="389.03" x2="946.8" y2="410.57" style="stroke-width:1.1" />
<line x1="949.05" y1="389.08" x2="949.05" y2="410.52" style="stroke-width:1.1" />
<line x1="952.2" y1="389.91" x2="952.2" y2="409.69" style="stroke-width:1.1" />
<circle cx="853.5" cy="603" r="13.6" style="stroke-width:1.5;fill:#fff;"/>
<circle cx="853.5" cy="603" r="10.6" style="stroke-width:1;"/>
<line x1="844.09" y1="606.93" x2="850.12" y2="593.38" style="stroke-width:1.2" />
<line x1="846.48" y1="610.4" x2="854.31" y2="592.83" style="stroke-width:1.2" />
<line x1="849.72" y1="612.47" x2="858.01" y2="593.85" style="stroke-width:1.2" />
<line x1="853.34" y1="613.2" x2="860.97" y2="596.06" style="stroke-width:1.2" />
<line x1="857.68" y1="612.31" x2="863.21" y2="599.88" style="stroke-width:1.2" />
<path d="M944.8,448.8 L950.7,458.4 L947.5,458.4 L947.5,473.9 L942.1,473.9 L942.1,458.4 L938.9,458.4 Z" style="stroke-width:1.1;" />
</g>
</svg>
</body></html>
